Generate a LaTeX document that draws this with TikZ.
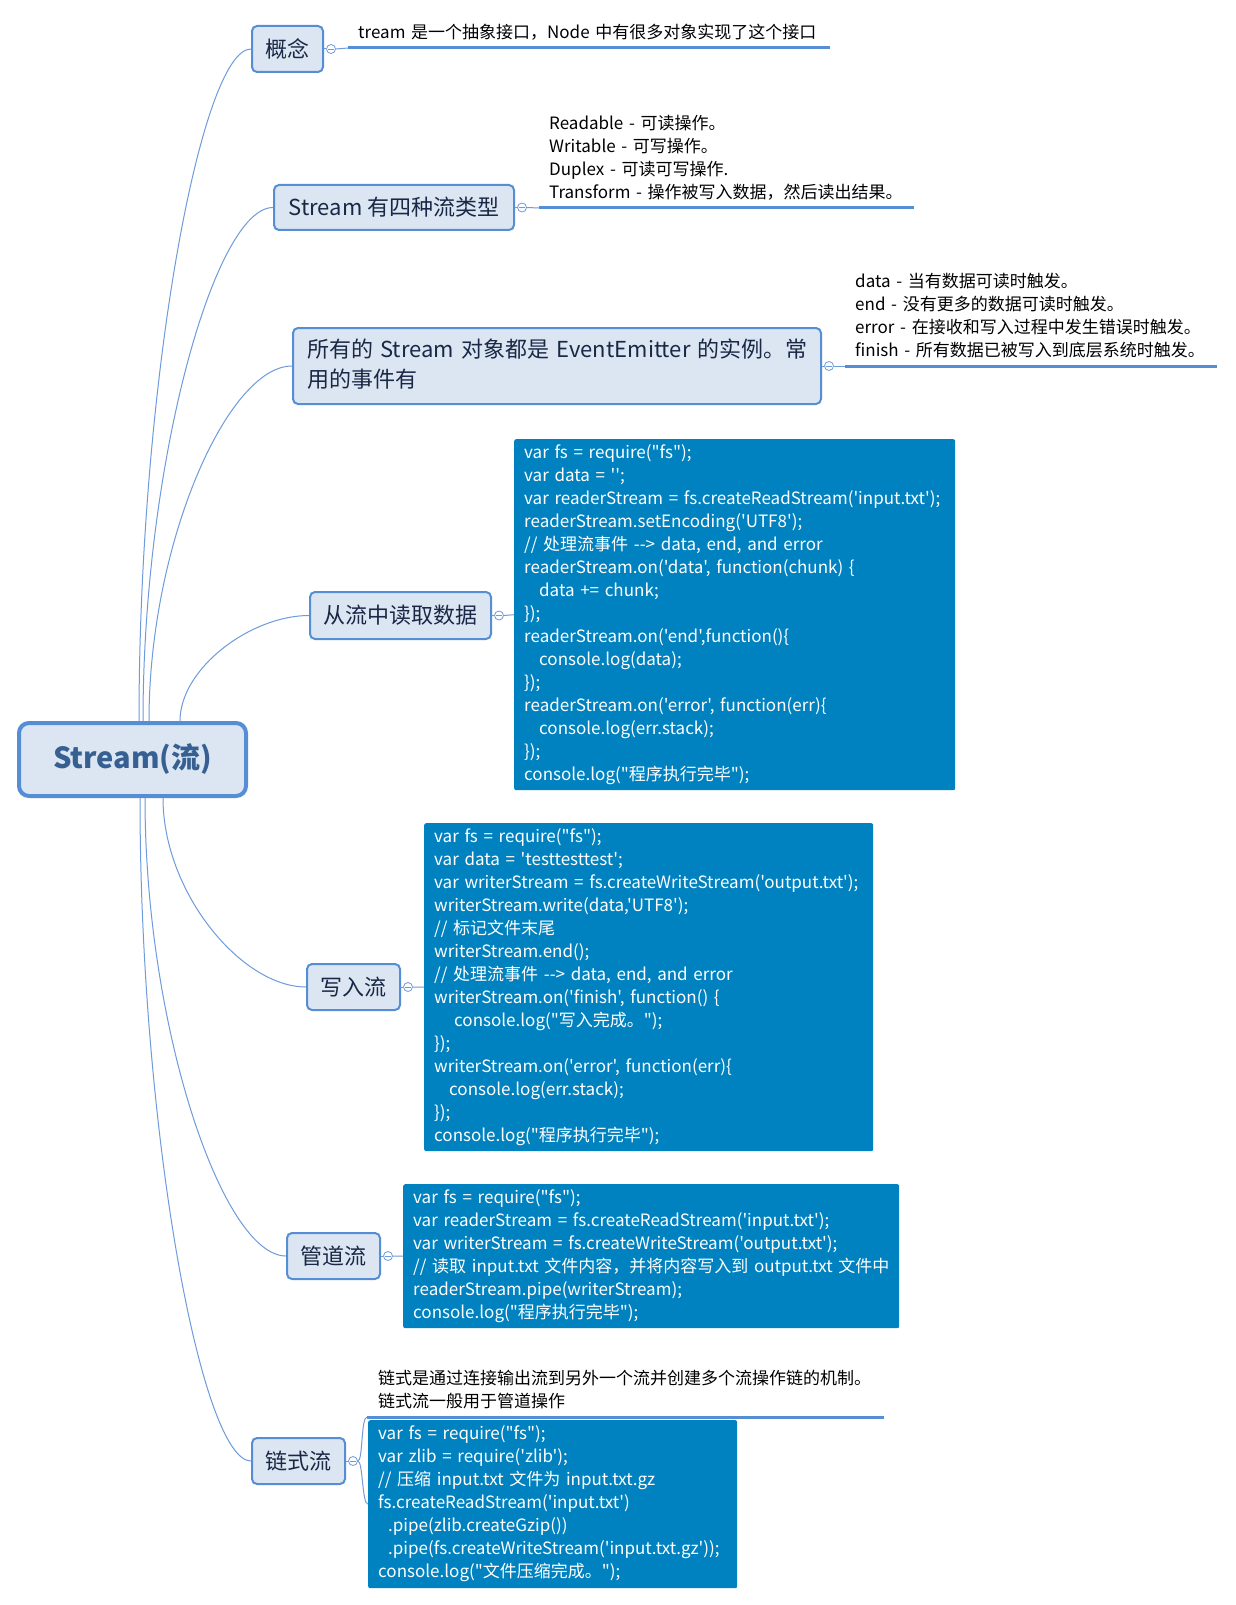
\documentclass[tikz,border=0pt]{standalone}
\usepackage{fontspec}
\newfontfamily\yh{Noto Sans CJK SC}
\usetikzlibrary{calc}
\definecolor{boxfill}{RGB}{220,230,242}
\definecolor{boxline}{RGB}{85,142,213}
\definecolor{linkc}{RGB}{110,155,220}
\definecolor{codebg}{RGB}{0,130,192}
\definecolor{topictext}{RGB}{25,40,70}
\definecolor{roottext}{RGB}{54,96,146}
\newcommand\cl[1]{\mbox{\strut#1}}
\newcommand\branchcurve[2]{\draw[linkcurve] (#1) .. controls ($(#1)!0.5!(#1|-#2.west)$) and ($(#2.west)!0.45!(#2.west-|#1)$) .. (#2.west);}
\tikzset{
  linkcurve/.style={draw=linkc, line width=1pt},
  rootbox/.style={draw=boxline, fill=boxfill, line width=4pt, rounded corners=10pt,
    minimum width=227pt, minimum height=73pt, inner sep=0pt, text=roottext,
    font=\yh\bfseries\fontsize{29}{34}\selectfont},
  topicbox/.style={draw=boxline, fill=boxfill, line width=2pt, rounded corners=5pt,
    inner sep=0pt, text=topictext, font=\yh\fontsize{22}{30}\selectfont},
  codebox/.style={fill=codebg, rounded corners=2pt, text=white, align=left,
    inner xsep=10pt, inner ysep=0pt, anchor=north west,
    font=\yh\fontsize{17}{23}\selectfont},
  lbl/.style={align=left, inner xsep=10pt, inner ysep=2pt, anchor=south west,
    text=black, font=\yh\fontsize{17}{23}\selectfont},
  uline/.style={draw=boxline, line width=3pt},
  knob/.style={circle, draw=linkc, fill=white, line width=0.8pt, minimum size=9pt,
    inner sep=0pt, path picture={\draw[linkc, line width=0.8pt]
      ([xshift=-2.6pt]path picture bounding box.center) --
      ([xshift=2.6pt]path picture bounding box.center);}}
}
\begin{document}
\begin{tikzpicture}[x=1pt, y=-1pt]
\fill[white] (0,0) rectangle (1235,1605);
\useasboundingbox (0,0) rectangle (1235,1605);

% root
\node[rootbox] (root) at (132.5,759.5) {Stream(流)};

% topics
\node[topicbox, minimum width=71pt, minimum height=46pt] (g1) at (287.5,49) {概念};
\node[topicbox, minimum width=240pt, minimum height=45pt] (g2) at (394,207.5) {Stream 有四种流类型};
\node[topicbox, text width=500pt, align=left, inner xsep=14pt, minimum height=76pt] (g3) at (557,366)
  {\cl{所有的 Stream 对象都是 EventEmitter 的实例。常}\\\cl{用的事件有}};
\node[topicbox, minimum width=181pt, minimum height=47pt] (g4) at (400.5,615.5) {从流中读取数据};
\node[topicbox, minimum width=93pt, minimum height=46pt] (g5) at (353.5,987) {写入流};
\node[topicbox, minimum width=93pt, minimum height=46pt] (g6) at (333.5,1256) {管道流};
\node[topicbox, minimum width=93pt, minimum height=46pt] (g7) at (298.5,1461) {链式流};

% curves from root
\coordinate (s1) at ($(root.north west)+(122,0)$);
\coordinate (s2) at ($(root.north west)+(126,0)$);
\coordinate (s3) at ($(root.north west)+(132,0)$);
\coordinate (s4) at ($(root.north west)+(163,0)$);
\coordinate (s5) at ($(root.south west)+(146,0)$);
\coordinate (s6) at ($(root.south west)+(128,0)$);
\coordinate (s7) at ($(root.south west)+(123,0)$);
\branchcurve{s1}{g1}
\branchcurve{s2}{g2}
\branchcurve{s3}{g3}
\branchcurve{s4}{g4}
\branchcurve{s5}{g5}
\branchcurve{s6}{g6}
\branchcurve{s7}{g7}

% labels
\node[lbl, text width=462pt] (t1) at (348,48)
  {\cl{tream 是一个抽象接口，Node 中有很多对象实现了这个接口}};
\node[lbl, text width=355pt] (t2) at (539,208)
  {\cl{Readable - 可读操作。}\\\cl{Writable - 可写操作。}\\\cl{Duplex - 可读可写操作.}\\\cl{Transform - 操作被写入数据，然后读出结果。}};
\node[lbl, text width=352pt] (t3) at (845,366)
  {\cl{data - 当有数据可读时触发。}\\\cl{end - 没有更多的数据可读时触发。}\\\cl{error - 在接收和写入过程中发生错误时触发。}\\\cl{finish - 所有数据已被写入到底层系统时触发。}};
\node[lbl, text width=495pt, inner xsep=11pt] (t7) at (367,1417)
  {\cl{链式是通过连接输出流到另外一个流并创建多个流操作链的机制。}\\\cl{链式流一般用于管道操作}};
\foreach \t in {t1,t2,t3,t7} \draw[uline] (\t.south west) -- (\t.south east);

% code boxes
\node[codebox, text width=421pt, minimum height=351pt] (c4) at (514,439) {%
\cl{var fs = require("fs");}\\
\cl{var data = '';}\\
\cl{var readerStream = fs.createReadStream('input.txt');}\\
\cl{readerStream.setEncoding('UTF8');}\\
\cl{// 处理流事件 --> data, end, and error}\\
\cl{readerStream.on('data', function(chunk) \{}\\
\cl{\hspace*{15pt}data += chunk;}\\
\cl{\});}\\
\cl{readerStream.on('end',function()\{}\\
\cl{\hspace*{15pt}console.log(data);}\\
\cl{\});}\\
\cl{readerStream.on('error', function(err)\{}\\
\cl{\hspace*{15pt}console.log(err.stack);}\\
\cl{\});}\\
\cl{console.log("程序执行完毕");}};

\node[codebox, text width=429pt, minimum height=328pt] (c5) at (424,823) {%
\cl{var fs = require("fs");}\\
\cl{var data = 'testtesttest';}\\
\cl{var writerStream = fs.createWriteStream('output.txt');}\\
\cl{writerStream.write(data,'UTF8');}\\
\cl{// 标记文件末尾}\\
\cl{writerStream.end();}\\
\cl{// 处理流事件 --> data, end, and error}\\
\cl{writerStream.on('finish', function() \{}\\
\cl{\hspace*{20pt}console.log("写入完成。");}\\
\cl{\});}\\
\cl{writerStream.on('error', function(err)\{}\\
\cl{\hspace*{15pt}console.log(err.stack);}\\
\cl{\});}\\
\cl{console.log("程序执行完毕");}};

\node[codebox, text width=476pt, minimum height=144pt] (c6) at (403,1184) {%
\cl{var fs = require("fs");}\\
\cl{var readerStream = fs.createReadStream('input.txt');}\\
\cl{var writerStream = fs.createWriteStream('output.txt');}\\
\cl{// 读取 input.txt 文件内容，并将内容写入到 output.txt 文件中}\\
\cl{readerStream.pipe(writerStream);}\\
\cl{console.log("程序执行完毕");}};

\node[codebox, text width=349pt, minimum height=168pt] (c7) at (368,1420) {%
\cl{var fs = require("fs");}\\
\cl{var zlib = require('zlib');}\\
\cl{// 压缩 input.txt 文件为 input.txt.gz}\\
\cl{fs.createReadStream('input.txt')}\\
\cl{\hspace*{10pt}.pipe(zlib.createGzip())}\\
\cl{\hspace*{10pt}.pipe(fs.createWriteStream('input.txt.gz'));}\\
\cl{console.log("文件压缩完成。");}};

% knobs and short links
\foreach \g/\k in {g1/k1,g2/k2,g3/k3,g4/k4,g5/k5,g6/k6,g7/k7}
  \node[knob] (\k) at ($(\g.east)+(7,0)$) {};
\foreach \g/\k in {g1/k1,g2/k2,g3/k3,g4/k4,g5/k5,g6/k6,g7/k7}
  \draw[linkcurve] (\g.east) -- (\k.west);
\draw[linkcurve] (k1.east) -- (t1.south west);
\draw[linkcurve] (k2.east) -- (t2.south west);
\draw[linkcurve] (k3.east) -- (t3.south west);
\draw[linkcurve] (k4.east) -- (c4.west);
\draw[linkcurve] (k5.east) -- (c5.west);
\draw[linkcurve] (k6.east) -- (c6.west);
\draw[linkcurve] (k7.east) .. controls +(5,0) and +(-6,0) .. (t7.south west);
\draw[linkcurve] (k7.east) .. controls +(5,0) and +(-6,0) .. (c7.west);
\end{tikzpicture}
\end{document}
